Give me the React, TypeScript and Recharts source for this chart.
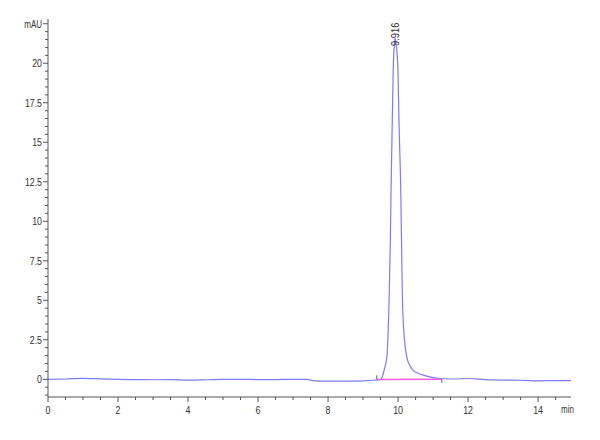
import React from 'react';
import { LineChart, Line, XAxis, YAxis, ReferenceLine } from 'recharts';

// retention time (min) and detector signal (mAU)
const times = [
  0, 0.5, 1, 1.5, 2, 2.5, 3, 3.5, 4, 4.5, 5, 5.5, 6, 6.5, 7, 7.4, 7.6, 8, 8.5, 9, 9.3, 9.5,
  9.57, 9.6, 9.68, 9.75, 9.78, 9.8, 9.84, 9.866, 9.9, 9.916, 9.95, 9.99, 10.03, 10.076, 10.1,
  10.12, 10.16, 10.25, 10.33, 10.43, 10.55, 10.7, 10.9, 11.2, 11.5, 12, 12.5, 13, 13.5, 14,
  14.5, 14.94,
];
const signal = [
  0, 0.02, 0.06, 0.03, 0, -0.02, -0.03, -0.02, -0.05, -0.03, 0, 0, -0.02, -0.02, 0, 0, -0.1,
  -0.12, -0.12, -0.1, -0.06, 0, 0.3, 0.57, 1.4, 5.6, 8.8, 12, 17, 20, 21.3, 21.6, 21.1, 20,
  16, 12, 8.6, 5.6, 3.2, 1.4, 0.9, 0.57, 0.4, 0.28, 0.15, 0.05, 0.02, 0.05, -0.02, -0.05,
  -0.06, -0.1, -0.08, -0.08,
];

const peakTime = 9.916;
const peakLabel = '9.916';
// integration baseline: start / end (min, mAU) and the small end marks (mAU)
const integStart = [9.39, -0.01];
const integEnd = [11.25, 0.0];
const markStart = 0.25;
const markEnd = -0.22;

const xMajor = [0, 2, 4, 6, 8, 10, 12, 14];
const yMajor = [0, 2.5, 5, 7.5, 10, 12.5, 15, 17.5, 20];
const yUnitTick = 22.5;
const xUnitTick = 14.84;

const xTicks: number[] = [];
for (let t = 0; t <= 14.5; t += 0.5) xTicks.push(t);
xTicks.push(xUnitTick);
const yTicks: number[] = [];
for (let v = -1; v <= 22.5; v += 0.5) yTicks.push(v);

const data = times.map((t, i) => ({ t, v: signal[i] }));

const font = '"Liberation Sans", Arial, sans-serif';
const axisColor = '#555';
const textColor = '#333';

// narrow text like the instrument software prints
const NarrowText = ({ x, y, anchor, size, children }: any) => (
  <text
    transform={`translate(${x} ${y}) scale(0.8 1)`}
    x={0}
    y={0}
    textAnchor={anchor}
    fontSize={size}
    fill={textColor}
    fontFamily={font}
  >
    {children}
  </text>
);

const XTick = (props: any) => {
  const { x, y, payload } = props;
  const v = payload.value;
  if (v === xUnitTick) {
    return <NarrowText x={x} y={y + 16} anchor="middle" size={10}>min</NarrowText>;
  }
  const major = xMajor.includes(v);
  return (
    <g>
      <line x1={x} x2={x} y1={y} y2={y + (major ? 5 : 3)} stroke={axisColor} />
      {major && <NarrowText x={x} y={y + 17} anchor="middle" size={11}>{v}</NarrowText>}
    </g>
  );
};

const YTick = (props: any) => {
  const { x, y, payload } = props;
  const v = payload.value;
  const major = yMajor.includes(v) || v === yUnitTick;
  return (
    <g>
      <line x1={x - (major ? 5 : 3)} x2={x} y1={y} y2={y} stroke={axisColor} />
      {major && (
        <NarrowText x={x - 6} y={y + 4} anchor="end" size={v === yUnitTick ? 10 : 11}>
          {v === yUnitTick ? 'mAU' : v}
        </NarrowText>
      )}
    </g>
  );
};

const PeakLabel = (props: any) => {
  const { x, y, index } = props;
  if (times[index] !== peakTime) return null;
  const tx = x + 3.5;
  const ty = y + 8;
  return (
    <text
      transform={`translate(${tx} ${ty}) rotate(-90) scale(0.85 1)`}
      x={0}
      y={0}
      textAnchor="start"
      fontSize={11}
      fill={textColor}
      fontFamily={font}
    >
      {peakLabel}
    </text>
  );
};

export default function App() {
  return (
    <div style={{ position: 'absolute', left: 0, top: 0, background: '#fff' }}>
      <LineChart width={600} height={440} data={data} margin={{ top: 19, right: 29, left: 0, bottom: 0 }}>
        <XAxis
          dataKey="t"
          type="number"
          domain={[0, 14.94]}
          ticks={xTicks}
          interval={0}
          tickSize={0}
          tickMargin={0}
          tickLine={false}
          axisLine={{ stroke: axisColor }}
          tick={<XTick />}
          height={43}
          allowDataOverflow
        />
        <YAxis
          type="number"
          domain={[-1.12, 22.8]}
          ticks={yTicks}
          interval={0}
          tickSize={0}
          tickMargin={0}
          tickLine={false}
          axisLine={{ stroke: axisColor }}
          tick={<YTick />}
          width={48}
          allowDataOverflow
        />
        <Line
          dataKey="v"
          type="monotone"
          stroke="#7b7bff"
          strokeWidth={1.2}
          dot={false}
          isAnimationActive={false}
          label={<PeakLabel />}
        />
        <ReferenceLine
          segment={[
            { x: integStart[0], y: integStart[1] },
            { x: integEnd[0], y: integEnd[1] },
          ]}
          stroke="#ff5ce0"
          strokeWidth={1.5}
        />
        <ReferenceLine
          segment={[
            { x: integStart[0], y: integStart[1] },
            { x: integStart[0], y: markStart },
          ]}
          stroke="#666"
        />
        <ReferenceLine
          segment={[
            { x: integEnd[0], y: integEnd[1] },
            { x: integEnd[0], y: markEnd },
          ]}
          stroke="#666"
        />
      </LineChart>
    </div>
  );
}
